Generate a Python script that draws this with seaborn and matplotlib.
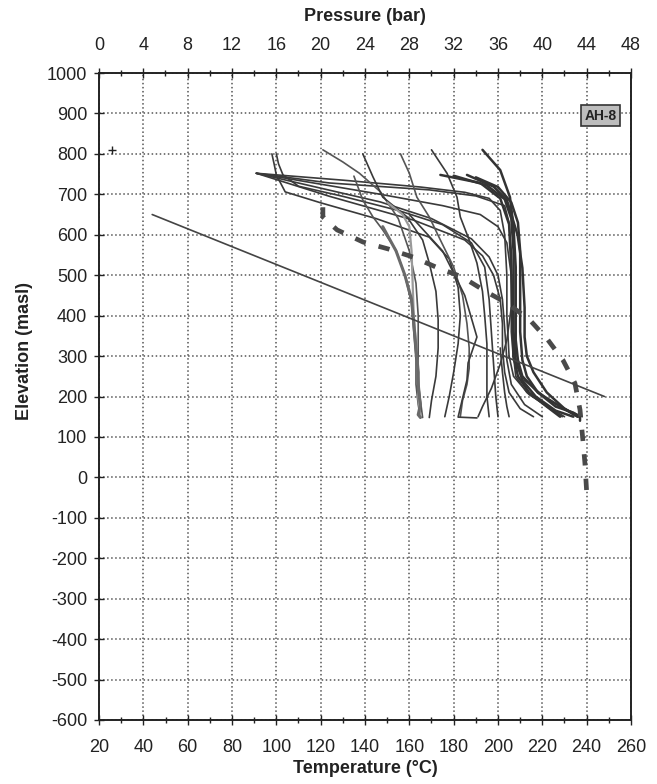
import matplotlib
matplotlib.use("Agg")
import matplotlib.pyplot as plt
from matplotlib.ticker import MultipleLocator
import pandas as pd
import seaborn as sns

sns.set_theme(style="white")
plt.rcParams["font.family"] = ["Liberation Sans", "DejaVu Sans"]
plt.rcParams["axes.unicode_minus"] = False

# ---- axes -----------------------------------------------------------------
temp_ticks = list(range(20, 261, 20))
pressure_ticks = list(range(0, 49, 4))
elev_ticks = list(range(-600, 1001, 100))
well_name = "AH-8"

# ---- temperature logs: temperature (°C) vs elevation (masl) ---------------
t01 = [98, 99, 100, 104, 120, 145, 169, 178, 182, 183, 182, 180, 178, 176]
z01 = [800, 775, 748, 706, 679, 640, 594, 540, 470, 400, 330, 260, 200, 150]
t02 = [100, 101, 103, 110, 130, 155, 175, 188, 194, 196, 197, 198, 199, 200]
z02 = [800, 775, 748, 720, 695, 660, 625, 580, 520, 440, 360, 280, 200, 150]
t03 = [91, 124, 169, 190, 203, 205, 206, 206, 206, 207, 212, 222, 232, 238]
z03 = [752, 728, 711, 696, 672, 630, 560, 460, 360, 290, 240, 195, 165, 150]
t04 = [91, 124, 162, 185, 193, 198, 201, 202, 202, 203, 205, 210, 216]
z04 = [752, 695, 636, 587, 548, 500, 440, 380, 320, 260, 210, 170, 150]
t05 = [91, 130, 165, 185, 196, 201, 203, 204, 204, 205, 207, 214, 224, 230]
z05 = [752, 735, 718, 705, 690, 660, 600, 500, 400, 300, 250, 205, 170, 150]
t06 = [91, 147, 175, 192, 200, 204, 206, 207, 207, 208, 213, 222, 229]
z06 = [752, 700, 672, 650, 620, 580, 500, 400, 300, 250, 210, 175, 150]
t07 = [91, 147, 170, 188, 196, 200, 202, 203, 204, 206, 212, 220]
z07 = [752, 681, 640, 590, 545, 500, 440, 370, 290, 230, 180, 150]
t08 = [121, 130, 137.5, 147, 155, 160, 163, 164, 164, 164, 165, 166]
z08 = [810, 780, 752, 706, 640, 560, 480, 400, 320, 250, 190, 148]
t09 = [139, 143.6, 148, 159, 166, 169, 172, 173, 173, 172, 170, 169]
z09 = [800, 743, 693, 644, 587, 530, 460, 390, 320, 250, 190, 148]
t10 = [156, 160, 163.4, 169, 174, 180, 184, 186, 187, 187, 186, 184, 183]
z10 = [800, 752, 693, 644, 587, 520, 450, 380, 320, 270, 230, 190, 150]
t11 = [170, 177, 181.5, 183, 187, 190.5, 193, 194, 195, 195, 195, 196]
z11 = [810, 752, 693, 644, 587, 530, 460, 400, 330, 260, 200, 150]
t12 = [193, 201, 205.4, 207, 208, 208, 208, 209, 211, 218, 228, 236]
z12 = [810, 760, 693, 620, 520, 420, 340, 290, 250, 210, 175, 150]
t13 = [135, 139, 143.6, 148, 154, 158, 161, 162, 163, 163, 164, 165]
z13 = [745, 686, 644, 612, 562, 500, 430, 360, 290, 230, 180, 148]
t14 = [174, 192, 201, 205, 206, 206.5, 207, 209, 214, 222, 228]
z14 = [748, 728, 690, 626, 514, 400, 300, 250, 210, 175, 150]
t15 = [186, 198, 204, 208.8, 211, 212, 212, 213, 216, 222, 230, 236]
z15 = [748, 719, 686, 600, 518, 420, 347, 300, 260, 210, 170, 150]
t16 = [180, 195, 203, 206, 207, 207, 207, 208, 211, 217, 226, 234]
z16 = [746, 722, 688, 640, 560, 460, 360, 290, 240, 200, 165, 150]
t17 = [190, 200, 206, 209, 210, 210, 210, 211, 213, 218, 226, 234, 237, 237]
z17 = [742, 718, 680, 630, 560, 460, 360, 290, 250, 210, 175, 160, 150, 140]
t18 = [150, 157, 160, 161, 161.6, 162, 163, 164, 164, 165]
z18 = [680, 650, 620, 560, 463, 400, 330, 260, 200, 150]
t19 = [148, 154, 158, 161, 162, 163, 164, 164, 165, 164, 165]
z19 = [620, 560, 500, 440, 380, 320, 260, 220, 180, 155, 148]
t20 = [160, 175, 185, 190.5, 186.5, 186, 182, 190.5]
z20 = [650, 560, 450, 347, 283, 241, 149, 147]
t21 = [206, 204, 201, 197, 193, 191]
z21 = [420, 340, 280, 220, 175, 150]
t22 = [201, 202, 203, 204, 205]
z22 = [320, 260, 210, 175, 150]

# ---- estimated formation temperature (dashed) -----------------------------
form_temp = [121, 121, 127.4, 139.1, 150.4, 161.6, 172.9, 183.7, 195.0, 204.0,
             214.4, 222.5, 229.3, 234.7, 237.0, 238.3, 239.2, 240.1]
form_elev = [668, 644, 612, 582, 565, 545, 518, 496, 458, 431,
             389, 340, 290, 233, 167, 92, 36, -45]

# ---- pressure (bar) --------------------------------------------------------
press_bar = [4.8, 45.6]
press_elev = [650, 200]
wellhead_bar = [1.2]
wellhead_elev = [810]

logs = [(t01, z01), (t02, z02), (t03, z03), (t04, z04), (t05, z05), (t06, z06),
        (t07, z07), (t08, z08), (t09, z09), (t10, z10), (t11, z11), (t12, z12),
        (t13, z13), (t14, z14), (t15, z15), (t16, z16), (t17, z17), (t18, z18),
        (t19, z19), (t20, z20), (t21, z21), (t22, z22)]
frames = []
for k, (tt, zz) in enumerate(logs, start=1):
    frames.append(pd.DataFrame({"log": k, "temp": tt, "elev": zz}))
df = pd.concat(frames, ignore_index=True)

line_color = {k: "#3a3a3a" for k in range(1, 23)}
line_width = {k: 1.2 for k in range(1, 23)}
for k in (12, 14, 15, 16, 17):
    line_width[k] = 1.8
    line_color[k] = "#333333"
for k in (8, 10, 13):
    line_color[k] = "#555555"
line_color[18] = "#9a9a9a"
line_width[18] = 1.6
line_color[19] = "#6a6a6a"
line_width[19] = 2.2

fig = plt.figure(figsize=(6.57, 7.84), dpi=100)
ax = fig.add_axes([99 / 657, 1 - 720 / 784, 532 / 657, 647 / 784])
ax2 = ax.twiny()

for k in range(1, 23):
    sns.lineplot(data=df[df["log"] == k], x="temp", y="elev", ax=ax,
                 sort=False, estimator=None, color=line_color[k],
                 lw=line_width[k], zorder=3)

sns.lineplot(x=form_temp, y=form_elev, ax=ax, sort=False, estimator=None,
             color="#4a4a4a", lw=3.4, linestyle=(0, (2.4, 2.8)), zorder=4)

sns.lineplot(x=press_bar, y=press_elev, ax=ax2, sort=False, estimator=None,
             color="#444444", lw=1.2, zorder=3)
sns.scatterplot(x=wellhead_bar, y=wellhead_elev, ax=ax2, marker="+",
                color="#222222", s=40, linewidth=1.0, zorder=5)

# ---- axes styling ----------------------------------------------------------
ax.set_xlim(20, 260)
ax.set_ylim(-600, 1000)
ax.set_xticks(temp_ticks)
ax.set_yticks(elev_ticks)
ax.xaxis.set_minor_locator(MultipleLocator(10))
ax2.set_xlim(0, 48)
ax2.set_xticks(pressure_ticks)
ax2.xaxis.set_minor_locator(MultipleLocator(2))

grid_kw = dict(color="#555555", linestyle=":", linewidth=1.1)
ax.grid(True, which="major", axis="both", **grid_kw)
ax2.grid(False)
ax.set_axisbelow(True)

for a in (ax, ax2):
    for s in a.spines.values():
        s.set_color("#222222")
        s.set_linewidth(1.2)

ax.tick_params(axis="x", which="major", direction="inout", length=7, width=1,
               labelsize=13, pad=10, colors="#222222", bottom=True)
ax.tick_params(axis="x", which="minor", direction="inout", length=4, width=1,
               bottom=True, colors="#222222")
ax.tick_params(axis="y", which="major", direction="inout", length=7, width=1,
               labelsize=13, pad=5, colors="#222222", left=True)
ax2.tick_params(axis="x", which="major", direction="inout", length=7, width=1,
                labelsize=13, pad=10, colors="#222222", top=True)
ax2.tick_params(axis="x", which="minor", direction="inout", length=4, width=1,
                top=True, colors="#222222")

ax.set_xlabel("Temperature (°C)", fontsize=13, fontweight="bold",
              color="#222222", labelpad=3)
ax.set_ylabel("Elevation (masl)", fontsize=13, fontweight="bold",
              color="#222222")
ax.yaxis.set_label_coords(-0.125, 0.57)
ax2.set_xlabel("Pressure (bar)", fontsize=13, fontweight="bold",
               color="#222222", labelpad=12)

ax.text(246.3, 894, well_name, ha="center", va="center", fontsize=10,
        fontweight="bold", color="#222222", zorder=6,
        bbox=dict(boxstyle="square,pad=0.25", facecolor="#bdbdbd",
                  edgecolor="#333333", linewidth=1.2))

if ax.get_legend() is not None:
    ax.get_legend().remove()

fig.savefig("out.png", dpi=100)
